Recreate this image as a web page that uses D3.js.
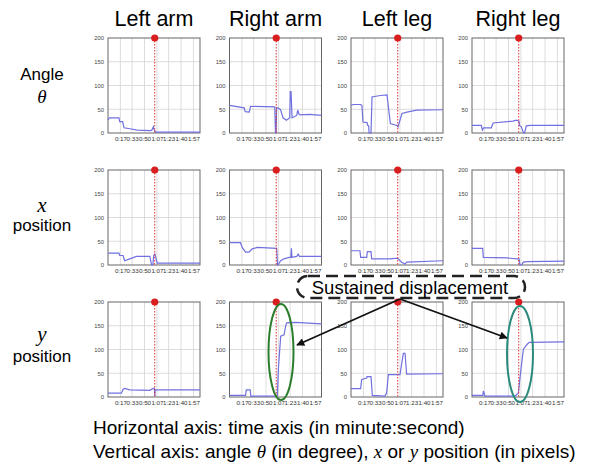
<!DOCTYPE html>
<html><head><meta charset="utf-8">
<script src="https://cdn.jsdelivr.net/npm/d3@7"></script>
<style>body{margin:0;background:#fff}svg{display:block}</style>
</head><body>
<svg id="c" width="602" height="466"></svg>
<script>
const columns = ["Left arm", "Right arm", "Left leg", "Right leg"];
const rows = [["Angle", "θ"], ["x", "position"], ["y", "position"]];
const xTicks = [17, 33, 50, 67, 83, 100, 117];
const xTickLabels = ["0:17", "0:33", "0:50", "1:07", "1:23", "1:40", "1:57"];
const yTicks = [0, 50, 100, 150, 200];
const eventTime = 64;

// [time (s), value] per panel
const leftArmAngle = [[0,27],[2,32],[15,32],[16,24],[20,24],[22,11],[30,9],[40,6],[58,5],[60,6],[62,13],[63,8],[65,2],[126,2]];
const rightArmAngle = [[0,58],[20,53],[21.5,45],[27,44],[28.9,56],[62,55],[63,0],[63.8,0],[64.5,53],[66.4,53],[70,49],[73.3,32],[78,27],[82.5,32],[83.3,87],[84.3,87],[85.7,32],[92,37],[93.5,48],[95,40],[97,38],[110,39],[126,37]];
const leftLegAngle = [[0,58],[3,60],[13,60],[15,58],[16.4,23],[22,22],[22.8,16],[24.2,15],[24.8,0],[27.4,0],[28.8,76],[40,79],[49.3,80],[51.6,50],[53.9,20],[63,16],[64.4,13],[69.8,41],[76.7,44],[90,48],[126,49]];
const rightLegAngle = [[0,16],[12.8,16],[14.2,6],[16,11],[26.5,11],[28.8,21],[56,25],[60.7,27],[64.4,25],[65,16],[67.6,13],[69.8,3],[71,0],[72,0],[74.4,15],[80,16],[126,16]];
const leftArmX = [[0,25],[15,25],[16,20],[20.6,20],[22.9,9],[29.8,13],[39,18],[57.3,18],[59.6,1],[61.5,1],[62.5,19],[64.1,23],[65,18],[67.4,4],[126,4]];
const rightArmX = [[0,47],[15,47],[17.4,37],[22,27],[26.6,27],[31.2,34],[38,37],[64.6,35],[65.8,0],[66.4,0],[70.1,9],[74.7,13],[81.6,16],[84,16],[84.8,35],[85.5,16],[92,18],[94,23],[96,18],[126,18]];
const leftLegX = [[0,30],[12.3,30],[13.2,16],[21.5,16],[22.4,28],[27.4,28],[28.3,13],[53.4,13],[60.3,14],[63.9,14],[69.4,6],[74,2],[76.2,6],[126,9]];
const rightLegX = [[0,35],[14.6,35],[15.5,16],[47.5,15],[61.2,13],[64.4,13],[65.7,0],[68,0],[70.3,6],[74.9,7],[126,8]];
const leftArmY = [[0,8],[18.3,8],[20.6,16],[22.9,18],[29.8,15],[57.3,14],[61.9,18],[63.5,18],[64.1,2],[64.6,15],[126,15]];
const rightArmY = [[0,3.5],[22,3.5],[22.9,15],[28.3,15],[29.2,2],[63.2,2],[65.5,3],[67,60],[70.1,128],[74.7,131],[77,150],[78.3,156],[90,157],[126,154]];
const leftLegY = [[0,17.5],[13.2,17.5],[14.6,37],[21.5,40],[22,43],[27.4,43],[29.2,3.5],[46.6,2],[48.8,9],[51.1,47],[67.1,47],[69.4,70],[71.7,92],[74,92],[76.2,48],[126,49]];
const rightLegY = [[0,3.5],[15,3.5],[15.5,12.6],[17.8,2],[58.9,2],[63.5,8],[65.7,40],[70.3,100],[74.9,110],[78.5,115],[126,116]];

const series = [
  [leftArmAngle, rightArmAngle, leftLegAngle, rightLegAngle],
  [leftArmX, rightArmX, leftLegX, rightLegX],
  [leftArmY, rightArmY, leftLegY, rightLegY]
];

const svg = d3.select("#c");
const panelLeft = [108, 229.5, 351, 472];
const panelTop = [38, 170, 302];
const pw = 92, ph = 95;
const x = d3.scaleLinear().domain([0, 126]).range([0, pw]);
const y = d3.scaleLinear().domain([0, 200]).range([ph, 0]);
const font = "Liberation Sans, Arial, sans-serif";
const serif = "Liberation Serif, serif";

// column titles
columns.forEach((c, i) => {
  svg.append("text").attr("x", panelLeft[i] + pw / 2).attr("y", 26)
    .attr("text-anchor", "middle").attr("font-family", font).attr("font-size", 21.5).text(c);
});

// row labels
const rowLabelY = [[80, 103], [212, 231], [341, 362]];
rows.forEach((r, i) => {
  const sym = i === 0 ? r[1] : r[0];
  const word = i === 0 ? r[0] : r[1];
  const symY = i === 0 ? rowLabelY[i][1] : rowLabelY[i][0];
  const wordY = i === 0 ? rowLabelY[i][0] : rowLabelY[i][1];
  svg.append("text").attr("x", 42).attr("y", wordY).attr("text-anchor", "middle")
    .attr("font-family", font).attr("font-size", 17).text(word);
  svg.append("text").attr("x", 42).attr("y", symY).attr("text-anchor", "middle")
    .attr("font-family", serif).attr("font-style", "italic").attr("font-size", i === 0 ? 19 : 21).text(sym);
});

const line = d3.line().x(d => x(d[0])).y(d => y(d[1]));

series.forEach((rowS, ri) => {
  rowS.forEach((data, ci) => {
    const g = svg.append("g").attr("transform", `translate(${panelLeft[ci]},${panelTop[ri]})`);
    // grid
    g.append("g").selectAll("line").data(xTicks).join("line")
      .attr("x1", d => x(d)).attr("x2", d => x(d)).attr("y1", 0).attr("y2", ph)
      .attr("stroke", "#d4d4d4").attr("stroke-width", 0.8);
    g.append("g").selectAll("line").data(yTicks.slice(1, -1)).join("line")
      .attr("y1", d => y(d)).attr("y2", d => y(d)).attr("x1", 0).attr("x2", pw)
      .attr("stroke", "#d4d4d4").attr("stroke-width", 0.8);
    // axes
    const ya = g.append("g").call(d3.axisLeft(y).tickValues(yTicks).tickSize(0).tickPadding(4));
    ya.select(".domain").remove();
    ya.selectAll("text").attr("font-size", 5.8).attr("font-family", font).attr("fill", "#444");
    const xa = g.append("g").attr("transform", `translate(0,${ph})`)
      .call(d3.axisBottom(x).tickValues(xTicks).tickFormat((d, i) => xTickLabels[i]).tickSize(0).tickPadding(4));
    xa.select(".domain").remove();
    xa.selectAll("text").attr("font-size", 6.2).attr("font-family", font).attr("fill", "#333");
    // frame
    g.append("rect").attr("width", pw).attr("height", ph).attr("fill", "none")
      .attr("stroke", "#666").attr("stroke-width", 1);
    // data line
    g.append("path").datum(data).attr("d", line).attr("fill", "none")
      .attr("stroke", "#7070e0").attr("stroke-width", 1.2);
    // event marker
    g.append("line").attr("x1", x(eventTime)).attr("x2", x(eventTime)).attr("y1", 0).attr("y2", ph)
      .attr("stroke", "#e03030").attr("stroke-width", 1).attr("stroke-dasharray", "1.5,1.5");
    g.append("circle").attr("cx", x(eventTime)).attr("cy", y(200)).attr("r", 3.6).attr("fill", "#d81e1e");
  });
});

// annotation ellipses
svg.append("ellipse").attr("cx", 281).attr("cy", 352).attr("rx", 12.5).attr("ry", 48)
  .attr("fill", "none").attr("stroke", "#2b7d2b").attr("stroke-width", 2);
svg.append("ellipse").attr("cx", 520).attr("cy", 354).attr("rx", 13).attr("ry", 48)
  .attr("fill", "none").attr("stroke", "#2a8a7c").attr("stroke-width", 2);

// dashed box with label
svg.append("rect").attr("x", 297).attr("y", 276).attr("width", 228).attr("height", 22).attr("rx", 11)
  .attr("fill", "#fff").attr("stroke", "#222").attr("stroke-width", 2.5).attr("stroke-dasharray", "12,6");
svg.append("text").attr("x", 410).attr("y", 293.5).attr("text-anchor", "middle")
  .attr("font-family", font).attr("font-size", 18.5).text("Sustained displacement");

// arrows
const defs = svg.append("defs");
defs.append("marker").attr("id", "ah").attr("viewBox", "0 0 10 10").attr("refX", 9).attr("refY", 5)
  .attr("markerWidth", 10).attr("markerHeight", 8).attr("markerUnits", "userSpaceOnUse").attr("orient", "auto")
  .append("path").attr("d", "M0,0 L10,5 L0,10 z").attr("fill", "#111");
[[297, 345], [507, 338]].forEach(t => {
  svg.append("line").attr("x1", 400).attr("y1", 299).attr("x2", t[0]).attr("y2", t[1])
    .attr("stroke", "#111").attr("stroke-width", 1.8).attr("marker-end", "url(#ah)");
});

// bottom captions
svg.append("text").attr("x", 93).attr("y", 434).attr("font-family", font).attr("font-size", 19)
  .text("Horizontal axis: time axis (in minute:second)");
const cap = svg.append("text").attr("x", 93).attr("y", 458).attr("font-family", font).attr("font-size", 19);
cap.append("tspan").text("Vertical axis: angle ");
cap.append("tspan").attr("font-family", serif).attr("font-style", "italic").text("θ");
cap.append("tspan").text(" (in degree), ");
cap.append("tspan").attr("font-family", serif).attr("font-style", "italic").text("x");
cap.append("tspan").text(" or ");
cap.append("tspan").attr("font-family", serif).attr("font-style", "italic").text("y");
cap.append("tspan").text(" position (in pixels)");
</script>
</body></html>
